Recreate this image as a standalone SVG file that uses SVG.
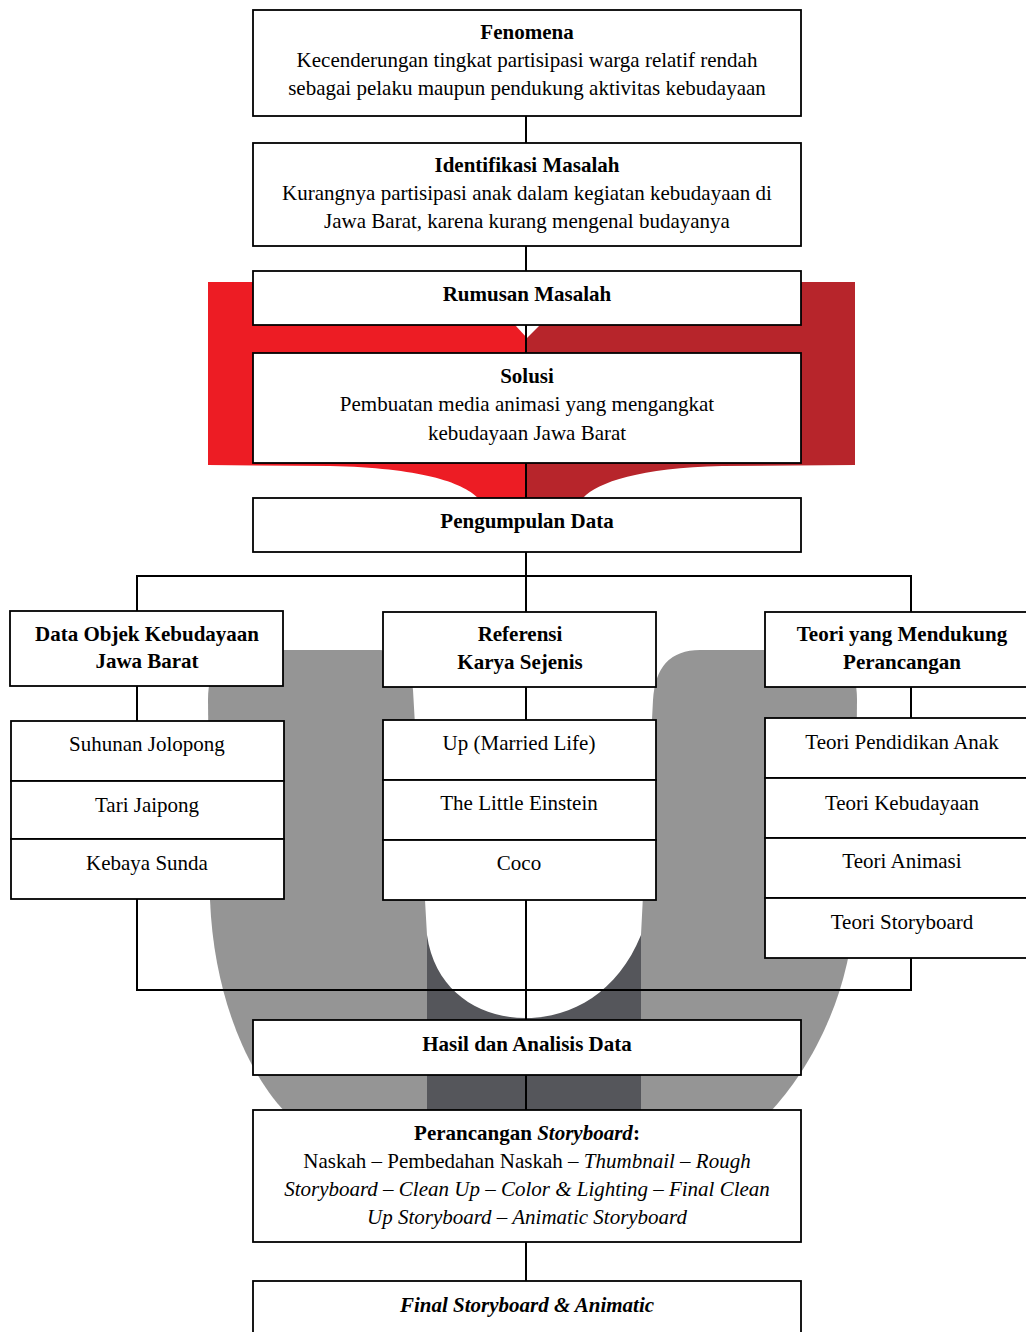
<svg xmlns="http://www.w3.org/2000/svg" width="1026" height="1332" viewBox="0 0 1026 1332">
<style>
.box{fill:#fff;stroke:#000;stroke-width:1.8}
.t{font-family:"Liberation Serif","Times New Roman",serif;font-size:21px;text-anchor:middle;fill:#000}
.b{font-weight:bold}
.i{font-style:italic}
.c{stroke:#000;stroke-width:2;fill:none}
</style>
<rect width="1026" height="1332" fill="#fff"/>
<g id="background">
  <path d="M526,282 L208,282 L208,465 L330,466 C420,468 462,482 478,498 L526,498 Z" fill="#ED1C24"/>
  <path d="M526,282 L855,282 L855,465 L722,466 C640,468 598,482 583,498 L526,498 Z" fill="#B7252B"/>
  <path d="M515,325 L540,325 L527,338 Z" fill="#fff"/>
  <path d="M250,650 L815,650 Q857,650 857,700 L855,900 C852,1000 805,1075 770,1112 L285,1112 C250,1075 214,1000 210,900 L208,700 Q208,650 250,650 Z" fill="#959595"/>
  <rect x="427" y="930" width="214" height="182" fill="#55565B"/>
  <path d="M380,640 L380,650 Q410,650 413,690 L427,935 C435,992 480,1018 526,1018 C572,1018 618,992 641,935 L653,700 Q656,650 700,650 L700,640 Z" fill="#fff"/>
</g>
<g id="connectors">
  <line class="c" x1="526" y1="116" x2="526" y2="143"/>
  <line class="c" x1="526" y1="246" x2="526" y2="271"/>
  <line class="c" x1="526" y1="325" x2="526" y2="353"/>
  <line class="c" x1="526" y1="463" x2="526" y2="498"/>
  <line class="c" x1="526" y1="552" x2="526" y2="612"/>
  <polyline class="c" points="137,611 137,576 911,576 911,612"/>
  <line class="c" x1="137" y1="686" x2="137" y2="721"/>
  <line class="c" x1="526" y1="687" x2="526" y2="720"/>
  <line class="c" x1="911" y1="687" x2="911" y2="718"/>
  <polyline class="c" points="137,899 137,990 911,990 911,958"/>
  <line class="c" x1="526" y1="900" x2="526" y2="1020"/>
  <line class="c" x1="526" y1="1075" x2="526" y2="1110"/>
  <line class="c" x1="526" y1="1242" x2="526" y2="1281"/>
</g>
<g id="fenomena">
  <rect class="box" x="253" y="10" width="548" height="106"/>
  <text class="t b" x="527" y="39">Fenomena</text>
  <text class="t" x="527" y="67">Kecenderungan tingkat partisipasi warga relatif rendah</text>
  <text class="t" x="527" y="95">sebagai pelaku maupun pendukung aktivitas kebudayaan</text>
</g>
<g id="identifikasi">
  <rect class="box" x="253" y="143" width="548" height="103"/>
  <text class="t b" x="527" y="172">Identifikasi Masalah</text>
  <text class="t" x="527" y="200">Kurangnya partisipasi anak dalam kegiatan kebudayaan di</text>
  <text class="t" x="527" y="228">Jawa Barat, karena kurang mengenal budayanya</text>
</g>
<g id="rumusan">
  <rect class="box" x="253" y="271" width="548" height="54"/>
  <text class="t b" x="527" y="301">Rumusan Masalah</text>
</g>
<g id="solusi">
  <rect class="box" x="253" y="353" width="548" height="110"/>
  <text class="t b" x="527" y="383">Solusi</text>
  <text class="t" x="527" y="411">Pembuatan media animasi yang mengangkat</text>
  <text class="t" x="527" y="440">kebudayaan Jawa Barat</text>
</g>
<g id="pengumpulan">
  <rect class="box" x="253" y="498" width="548" height="54"/>
  <text class="t b" x="527" y="528">Pengumpulan Data</text>
</g>
<g id="data-objek">
  <rect class="box" x="10" y="611" width="273" height="75"/>
  <text class="t b" x="147" y="641">Data Objek Kebudayaan</text>
  <text class="t b" x="147" y="668">Jawa Barat</text>
</g>
<g id="suhunan">
  <rect class="box" x="11" y="721" width="273" height="60"/>
  <text class="t" x="147" y="751">Suhunan Jolopong</text>
</g>
<g id="tari">
  <rect class="box" x="11" y="781" width="273" height="58"/>
  <text class="t" x="147" y="812">Tari Jaipong</text>
</g>
<g id="kebaya">
  <rect class="box" x="11" y="839" width="273" height="60"/>
  <text class="t" x="147" y="870">Kebaya Sunda</text>
</g>
<g id="referensi">
  <rect class="box" x="383" y="612" width="273" height="75"/>
  <text class="t b" x="520" y="641">Referensi</text>
  <text class="t b" x="520" y="669">Karya Sejenis</text>
</g>
<g id="up">
  <rect class="box" x="383" y="720" width="273" height="60"/>
  <text class="t" x="519" y="750">Up (Married Life)</text>
</g>
<g id="little-einstein">
  <rect class="box" x="383" y="780" width="273" height="60"/>
  <text class="t" x="519" y="810">The Little Einstein</text>
</g>
<g id="coco">
  <rect class="box" x="383" y="840" width="273" height="60"/>
  <text class="t" x="519" y="870">Coco</text>
</g>
<g id="teori">
  <rect class="box" x="765" y="612" width="274" height="75"/>
  <text class="t b" x="902" y="641">Teori yang Mendukung</text>
  <text class="t b" x="902" y="669">Perancangan</text>
</g>
<g id="teori-pendidikan">
  <rect class="box" x="765" y="718" width="274" height="60"/>
  <text class="t" x="902" y="749">Teori Pendidikan Anak</text>
</g>
<g id="teori-kebudayaan">
  <rect class="box" x="765" y="778" width="274" height="60"/>
  <text class="t" x="902" y="810">Teori Kebudayaan</text>
</g>
<g id="teori-animasi">
  <rect class="box" x="765" y="838" width="274" height="60"/>
  <text class="t" x="902" y="868">Teori Animasi</text>
</g>
<g id="teori-storyboard">
  <rect class="box" x="765" y="898" width="274" height="60"/>
  <text class="t" x="902" y="929">Teori Storyboard</text>
</g>
<g id="hasil">
  <rect class="box" x="253" y="1020" width="548" height="55"/>
  <text class="t b" x="527" y="1051">Hasil dan Analisis Data</text>
</g>
<g id="perancangan">
  <rect class="box" x="253" y="1110" width="548" height="132"/>
  <text class="t b" x="527" y="1140">Perancangan <tspan class="i">Storyboard</tspan>:</text>
  <text class="t" x="527" y="1168">Naskah – Pembedahan Naskah – <tspan class="i">Thumbnail – Rough</tspan></text>
  <text class="t i" x="527" y="1196">Storyboard – Clean Up – Color &amp; Lighting – Final Clean</text>
  <text class="t i" x="527" y="1224">Up Storyboard – Animatic Storyboard</text>
</g>
<g id="final">
  <rect class="box" x="253" y="1281" width="548" height="70"/>
  <text class="t b i" x="527" y="1312">Final Storyboard &amp; Animatic</text>
</g>
</svg>
